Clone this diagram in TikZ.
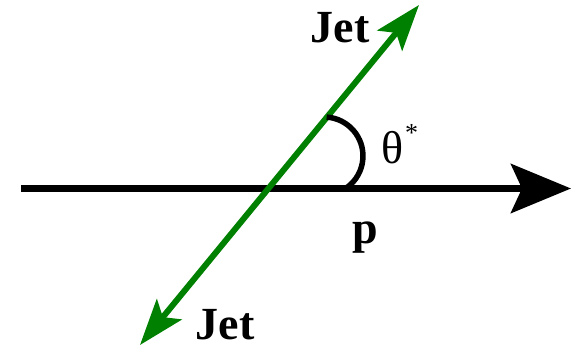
\documentclass[tikz,border=0pt]{standalone}
\usepackage{fontspec}
\setmainfont{Liberation Serif}
\usetikzlibrary{arrows.meta}
\definecolor{jetgreen}{RGB}{0,128,0}
\tikzset{
  axisline/.style={line width=7pt, black, -{Stealth[length=60pt,width=49pt,inset=11pt]}},
  jetline/.style={line width=6pt, jetgreen, {Stealth[length=46pt,width=32pt,inset=10pt]}-{Stealth[length=46pt,width=32pt,inset=10pt]}},
  anglearc/.style={line width=5.5pt, black},
  lbl/.style={font=\fontsize{46}{46}\selectfont\bfseries, anchor=base, inner sep=0pt},
  grk/.style={font=\fontsize{46}{46}\selectfont, anchor=base west, inner sep=0pt}
}
\begin{document}
\begin{tikzpicture}[x=1pt,y=-1pt]
\useasboundingbox (0,0) rectangle (571,352);
\coordinate (pL) at (21,188.5);
\coordinate (pR) at (571,188.5);
\coordinate (jB) at (140,345);
\coordinate (jT) at (419,5);
\coordinate (aS) at (326.7,117.1);
\draw[axisline] (pL) -- (pR);
\draw[jetline] (jB) -- (jT);
\draw[anglearc] (aS) arc[start angle=86, end angle=-54, radius=39pt];
\node[lbl] (jetT) at (340,43) {Jet};
\node[lbl] (jetB) at (225,340) {Jet};
\node[lbl] (pl) at (365,244) {p};
\node[grk] (th) at (381,164) {θ\hspace{2pt}\raisebox{22pt}{\fontsize{26}{26}\selectfont *}};
\end{tikzpicture}
\end{document}
